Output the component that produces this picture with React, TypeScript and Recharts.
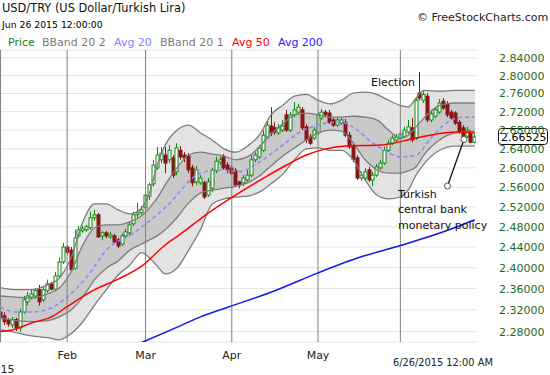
import React from "react";
import {
  ComposedChart,
  XAxis,
  YAxis,
  CartesianGrid,
  Area,
  Line,
  Bar,
  ReferenceLine,
} from "recharts";

// daily candles, Jan 8 .. Jun 26 2015 (index = trading day)
const opens = [
  2.316, 2.309, 2.302, 2.292, 2.302, 2.287, 2.316, 2.335, 2.344, 2.346,
  2.358, 2.339, 2.356, 2.369, 2.359, 2.384, 2.411, 2.44, 2.434, 2.399,
  2.462, 2.472, 2.474, 2.478, 2.498, 2.504, 2.462, 2.468, 2.46, 2.462,
  2.454, 2.446, 2.462, 2.468, 2.486, 2.504, 2.508, 2.518, 2.542, 2.567,
  2.6, 2.617, 2.627, 2.617, 2.621, 2.592, 2.637, 2.627, 2.625, 2.6,
  2.571, 2.569, 2.569, 2.544, 2.558, 2.594, 2.612, 2.623, 2.606, 2.6,
  2.594, 2.571, 2.569, 2.575, 2.585, 2.617, 2.623, 2.637, 2.665, 2.689,
  2.685, 2.674, 2.68, 2.713, 2.68, 2.713, 2.719, 2.724, 2.687, 2.665,
  2.663, 2.674, 2.706, 2.719, 2.717, 2.702, 2.691, 2.695, 2.697, 2.669,
  2.648, 2.621, 2.579, 2.579, 2.596, 2.575, 2.585, 2.6, 2.61, 2.637,
  2.652, 2.659, 2.663, 2.667, 2.676, 2.685, 2.663, 2.761, 2.745, 2.754,
  2.702, 2.71, 2.719, 2.743, 2.737, 2.719, 2.717, 2.697, 2.685, 2.667,
  2.674, 2.654,
];
const highs = [
  2.324, 2.316, 2.305, 2.307, 2.305, 2.322, 2.346, 2.354, 2.358, 2.361,
  2.367, 2.363, 2.377, 2.373, 2.392, 2.419, 2.448, 2.444, 2.44, 2.474,
  2.482, 2.482, 2.484, 2.51, 2.514, 2.508, 2.472, 2.472, 2.47, 2.466,
  2.458, 2.466, 2.476, 2.49, 2.51, 2.528, 2.522, 2.55, 2.569, 2.617,
  2.644, 2.644, 2.644, 2.648, 2.627, 2.652, 2.646, 2.633, 2.631, 2.606,
  2.604, 2.585, 2.573, 2.579, 2.6, 2.623, 2.623, 2.629, 2.612, 2.606,
  2.6, 2.573, 2.585, 2.596, 2.627, 2.633, 2.648, 2.68, 2.702, 2.73,
  2.697, 2.693, 2.702, 2.724, 2.719, 2.741, 2.737, 2.73, 2.693, 2.672,
  2.687, 2.719, 2.726, 2.724, 2.724, 2.706, 2.708, 2.706, 2.704, 2.676,
  2.654, 2.627, 2.592, 2.6, 2.602, 2.592, 2.608, 2.617, 2.644, 2.659,
  2.669, 2.672, 2.678, 2.687, 2.702, 2.706, 2.75, 2.808, 2.765, 2.761,
  2.724, 2.73, 2.748, 2.75, 2.743, 2.724, 2.721, 2.702, 2.691, 2.687,
  2.68, 2.672,
];
const lows = [
  2.302, 2.292, 2.289, 2.287, 2.281, 2.279, 2.313, 2.329, 2.339, 2.341,
  2.328, 2.335, 2.352, 2.356, 2.358, 2.38, 2.407, 2.425, 2.394, 2.396,
  2.458, 2.468, 2.47, 2.474, 2.492, 2.458, 2.454, 2.458, 2.456, 2.446,
  2.438, 2.442, 2.458, 2.462, 2.482, 2.498, 2.504, 2.514, 2.534, 2.562,
  2.596, 2.61, 2.589, 2.61, 2.579, 2.585, 2.617, 2.612, 2.589, 2.562,
  2.565, 2.565, 2.536, 2.54, 2.55, 2.589, 2.606, 2.596, 2.589, 2.585,
  2.56, 2.558, 2.562, 2.571, 2.581, 2.612, 2.619, 2.633, 2.661, 2.667,
  2.67, 2.67, 2.676, 2.676, 2.676, 2.708, 2.713, 2.68, 2.652, 2.648,
  2.659, 2.669, 2.702, 2.708, 2.693, 2.687, 2.687, 2.691, 2.665, 2.64,
  2.612, 2.575, 2.573, 2.575, 2.571, 2.562, 2.581, 2.596, 2.606, 2.633,
  2.648, 2.654, 2.659, 2.663, 2.672, 2.654, 2.659, 2.745, 2.739, 2.697,
  2.697, 2.706, 2.715, 2.724, 2.708, 2.702, 2.691, 2.672, 2.654, 2.663,
  2.652, 2.652,
];
const closes = [
  2.305, 2.298, 2.294, 2.302, 2.287, 2.316, 2.339, 2.346, 2.35, 2.356,
  2.335, 2.358, 2.369, 2.359, 2.384, 2.411, 2.44, 2.43, 2.396, 2.458,
  2.474, 2.476, 2.48, 2.498, 2.504, 2.46, 2.468, 2.462, 2.464, 2.45,
  2.442, 2.462, 2.47, 2.484, 2.504, 2.508, 2.514, 2.544, 2.565, 2.606,
  2.627, 2.631, 2.61, 2.637, 2.585, 2.642, 2.623, 2.621, 2.596, 2.569,
  2.596, 2.579, 2.54, 2.571, 2.596, 2.614, 2.617, 2.6, 2.596, 2.589,
  2.565, 2.565, 2.579, 2.585, 2.617, 2.627, 2.642, 2.669, 2.691, 2.674,
  2.676, 2.685, 2.689, 2.68, 2.713, 2.724, 2.73, 2.685, 2.659, 2.652,
  2.68, 2.713, 2.719, 2.713, 2.697, 2.691, 2.702, 2.702, 2.669, 2.644,
  2.617, 2.579, 2.585, 2.592, 2.575, 2.585, 2.602, 2.61, 2.637, 2.652,
  2.663, 2.665, 2.672, 2.68, 2.687, 2.659, 2.745, 2.75, 2.758, 2.702,
  2.715, 2.724, 2.739, 2.728, 2.713, 2.706, 2.695, 2.676, 2.659, 2.68,
  2.654, 2.66525,
];

// bollinger bands read at these bar indices
const bandIdx = [
  0, 4, 8, 12, 15, 18, 21, 24, 27, 30, 33, 36, 38, 40, 42, 45, 48, 51, 54, 57,
  60, 63, 66, 69, 72, 75, 78, 81, 84, 87, 90, 93, 96, 99, 102, 104, 106, 108,
  112, 116, 121,
];
const upper2 = [
  2.362, 2.358, 2.358, 2.367, 2.38, 2.419, 2.49, 2.526, 2.526, 2.514, 2.506,
  2.518, 2.548, 2.606, 2.648, 2.68, 2.691, 2.674, 2.659, 2.64, 2.633, 2.646,
  2.669, 2.713, 2.734, 2.754, 2.758, 2.745, 2.737, 2.745, 2.761, 2.763, 2.758,
  2.745, 2.734, 2.73, 2.75, 2.767, 2.765, 2.767, 2.767,
];
const upper1 = [
  2.346, 2.344, 2.342, 2.35, 2.361, 2.392, 2.444, 2.478, 2.484, 2.484, 2.49,
  2.502, 2.518, 2.538, 2.565, 2.6, 2.627, 2.633, 2.629, 2.625, 2.617, 2.623,
  2.644, 2.672, 2.693, 2.713, 2.717, 2.713, 2.708, 2.708, 2.71, 2.708, 2.702,
  2.68, 2.663, 2.669, 2.687, 2.706, 2.734, 2.739, 2.739,
];
const lower1 = [
  2.305, 2.3, 2.298, 2.3, 2.307, 2.32, 2.344, 2.377, 2.399, 2.413, 2.434,
  2.446, 2.454, 2.462, 2.474, 2.498, 2.528, 2.548, 2.554, 2.558, 2.562, 2.569,
  2.583, 2.604, 2.625, 2.642, 2.659, 2.674, 2.68, 2.678, 2.652, 2.617, 2.596,
  2.589, 2.589, 2.594, 2.602, 2.627, 2.659, 2.674, 2.678,
];
const lower2 = [
  2.283, 2.278, 2.272, 2.269, 2.265, 2.276, 2.298, 2.329, 2.358, 2.386, 2.405,
  2.429, 2.419, 2.403, 2.388, 2.399, 2.434, 2.474, 2.526, 2.536, 2.54, 2.542,
  2.55, 2.567, 2.587, 2.617, 2.64, 2.642, 2.637, 2.637, 2.617, 2.575, 2.544,
  2.536, 2.54, 2.554, 2.585, 2.608, 2.637, 2.646, 2.646,
];

const avg20Idx = [
  0, 4, 8, 13, 17, 22, 27, 34, 42, 51, 56, 61, 64, 68, 72, 76, 81, 85, 87, 91,
  95, 98, 102, 106, 110, 115, 118, 121,
];
const avg20 = [
  2.325, 2.316, 2.316, 2.324, 2.344, 2.382, 2.434, 2.468, 2.518, 2.589, 2.596,
  2.592, 2.602, 2.623, 2.648, 2.674, 2.691, 2.697, 2.697, 2.68, 2.652, 2.637,
  2.623, 2.627, 2.665, 2.702, 2.708, 2.708,
];
const avg50Idx = [
  0, 3, 8, 13, 17, 24, 30, 36, 42, 46, 51, 58, 68, 73, 78, 83, 88, 97, 106,
  113, 117, 121,
];
const avg50 = [
  2.28, 2.283, 2.296, 2.307, 2.326, 2.358, 2.378, 2.403, 2.444, 2.466, 2.496,
  2.534, 2.583, 2.606, 2.627, 2.64, 2.646, 2.648, 2.663, 2.674, 2.676, 2.674,
];
const avg200Idx = [36, 46, 51, 58, 70, 81, 92, 102, 113, 121];
const avg200 = [2.26, 2.291, 2.307, 2.325, 2.356, 2.39, 2.421, 2.443, 2.47, 2.494];

const monthTicks = [0, 17, 37, 59, 81, 102];
const monthLabels = ["2015", "Feb", "Mar", "Apr", "May", ""];
const priceTicks = [
  2.28, 2.32, 2.36, 2.4, 2.44, 2.48, 2.52, 2.56, 2.6, 2.64, 2.68, 2.72, 2.76,
  2.8, 2.84,
];
const lastClose = closes[closes.length - 1];

const X_MIN = -0.13;
const X_MAX = 121.3;
const Y_MIN = 2.261;
const Y_MAX = 2.858;

const rows = closes.map((c, i) => ({
  i,
  o: opens[i],
  h: highs[i],
  l: lows[i],
  c,
  range: [lows[i], highs[i]],
}));
const bands = bandIdx.map((i, k) => ({
  i,
  outer: [lower2[k], upper2[k]],
  inner: [lower1[k], upper1[k]],
  u2: upper2[k],
  u1: upper1[k],
  l1: lower1[k],
  l2: lower2[k],
}));
const ma20 = avg20Idx.map((i, k) => ({ i, v: avg20[k] }));
const ma50 = avg50Idx.map((i, k) => ({ i, v: avg50[k] }));
const ma200 = avg200Idx.map((i, k) => ({ i, v: avg200[k] }));

const FONT = "'DejaVu Sans', Verdana, sans-serif";
const UP = "#118a11";
const DOWN = "#8b1515";
const BAND_LINE = "#7c7c7c";

function Candle(props: any) {
  const { x, y, width, height, payload } = props;
  if (x == null || y == null || !payload) return null;
  const top0 = Math.min(y, y + height);
  const h0 = Math.abs(height);
  const { o, h, l, c } = payload;
  const cx = Math.round(x + width / 2) + 0.5;
  const lh = Math.log(h);
  const span = lh - Math.log(l) || 1;
  const py = (v: number) => top0 + (h0 * (lh - Math.log(v))) / span;
  const up = c >= o;
  const color = up ? UP : DOWN;
  const top = py(Math.max(o, c));
  const bh = Math.max(py(Math.min(o, c)) - top, 1);
  return (
    <g>
      <line x1={cx} x2={cx} y1={top0} y2={top0 + h0} stroke={color} strokeWidth={1} />
      <rect
        x={cx - 1.5}
        y={top}
        width={3}
        height={bh}
        fill={up ? "#ffffff" : color}
        stroke={color}
        strokeWidth={1}
      />
    </g>
  );
}

function MonthTick(props: any) {
  const { x, y, payload, index } = props;
  const label = monthLabels[monthTicks.indexOf(payload.value)] ?? "";
  const isYear = index === 0;
  return (
    <text
      x={x}
      y={y + (isYear ? 23 : 9)}
      textAnchor="middle"
      fontFamily={FONT}
      fontSize={11}
      fill="#222"
    >
      {label}
    </text>
  );
}

function PriceTick(props: any) {
  const { x, y, payload } = props;
  return (
    <text x={x + 15} y={y + 4} fontFamily={FONT} fontSize={11} fill="#236b23">
      {Number(payload.value).toFixed(5)}
    </text>
  );
}

function PriceBadge(props: any) {
  const vb = props.viewBox || {};
  const bx = vb.x + vb.width + 22.5;
  const by = vb.y - 8.5;
  return (
    <g>
      <rect x={bx} y={by} width={49} height={16} rx={3} fill="#fff" stroke="#111" />
      <text x={bx + 2.5} y={vb.y + 4} fontFamily={FONT} fontSize={11} fill="#000">
        {lastClose.toFixed(5)}
      </text>
    </g>
  );
}

const legend = [
  { text: "Price", x: 8, color: "#1e7b1e" },
  { text: "BBand 20 2", x: 42, color: "#7a7a7a" },
  { text: "Avg 20", x: 114, color: "#8080ff" },
  { text: "BBand 20 1", x: 160, color: "#7a7a7a" },
  { text: "Avg 50", x: 232, color: "#ff0000" },
  { text: "Avg 200", x: 278, color: "#2222ff" },
];

export default function App() {
  return (
    <div
      style={{
        position: "absolute",
        left: 0,
        top: 0,
        width: 550,
        height: 375,
        background: "#fff",
      }}
    >
      <ComposedChart
        width={550}
        height={375}
        data={rows}
        margin={{ top: 50, right: 0, bottom: 0, left: 0 }}
      >
        <CartesianGrid vertical={false} stroke="#e4e4e4" />
        <XAxis
          dataKey="i"
          type="number"
          domain={[X_MIN, X_MAX]}
          allowDataOverflow
          ticks={monthTicks}
          interval={0}
          tick={<MonthTick />}
          tickLine={false}
          axisLine={false}
          height={33}
        />
        <YAxis
          orientation="right"
          type="number"
          scale="log"
          domain={[Y_MIN, Y_MAX]}
          allowDataOverflow
          ticks={priceTicks}
          interval={0}
          tick={<PriceTick />}
          tickLine={false}
          axisLine={false}
          width={74}
        />
        <Area
          data={bands}
          dataKey="outer"
          type="monotone"
          stroke="none"
          fill="#e3e3e3"
          fillOpacity={1}
          isAnimationActive={false}
        />
        <Area
          data={bands}
          dataKey="inner"
          type="monotone"
          stroke="none"
          fill="#c9c9c9"
          fillOpacity={1}
          isAnimationActive={false}
        />
        {["u2", "l2", "u1", "l1"].map((k) => (
          <Line
            key={k}
            data={bands}
            dataKey={k}
            type="monotone"
            stroke={BAND_LINE}
            strokeWidth={1.3}
            dot={false}
            isAnimationActive={false}
          />
        ))}
        {monthTicks.map((t) => (
          <ReferenceLine key={t} x={t} stroke="#808080" strokeWidth={1} />
        ))}
        <Line
          data={ma20}
          dataKey="v"
          type="monotone"
          stroke="#8888ff"
          strokeWidth={1.5}
          strokeDasharray="4 3"
          dot={false}
          isAnimationActive={false}
        />
        <Line
          data={ma50}
          dataKey="v"
          type="monotone"
          stroke="#ff0000"
          strokeWidth={1.5}
          dot={false}
          isAnimationActive={false}
        />
        <Line
          data={ma200}
          dataKey="v"
          type="monotone"
          stroke="#1515ee"
          strokeWidth={1.5}
          dot={false}
          isAnimationActive={false}
        />
        <Bar dataKey="range" barSize={3} shape={<Candle />} isAnimationActive={false} />
        <ReferenceLine y={lastClose} stroke="none" label={<PriceBadge />} />
      </ComposedChart>
      <svg
        width={550}
        height={375}
        style={{ position: "absolute", left: 0, top: 0, pointerEvents: "none" }}
        fontFamily={FONT}
      >
        <text x={2} y={12} fontSize={11.4} fill="#111">
          USD/TRY (US Dollar/Turkish Lira)
        </text>
        <text x={2} y={28} fontSize={9.3} fill="#000">
          Jun 26 2015 12:00:00
        </text>
        {legend.map((d) => (
          <text key={d.text} x={d.x} y={46} fontSize={11} fill={d.color}>
            {d.text}
          </text>
        ))}
        <text x={417} y={20.5} fontSize={11} fill="#222">
          © FreeStockCharts.com
        </text>
        <text x={371} y={86} fontSize={11} fill="#111">
          Election
        </text>
        <line x1={447.5} y1={186} x2={464} y2={139.5} stroke="#111" strokeWidth={1.3} />
        <circle cx={447.5} cy={186} r={3} fill="#fff" stroke="#555" />
        <circle cx={464} cy={139.5} r={3} fill="#fff" stroke="#555" />
        <text x={398} y={197.5} fontSize={11} fill="#111">
          Turkish
        </text>
        <text x={398} y={213} fontSize={11} fill="#111">
          central bank
        </text>
        <text x={398} y={228.5} fontSize={11} fill="#111">
          monetary policy
        </text>
        <text x={393} y={366} fontSize={9.8} fill="#222">
          6/26/2015 12:00 AM
        </text>
      </svg>
    </div>
  );
}
